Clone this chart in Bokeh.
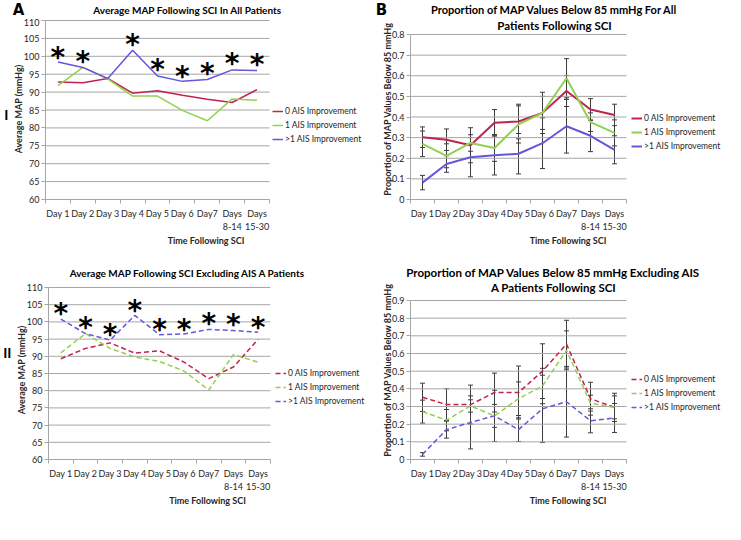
from bokeh.plotting import figure
from bokeh.layouts import column, row
from bokeh.models import (ColumnDataSource, Legend, LegendItem, FixedTicker, LinearAxis,
                          Whisker, TeeHead, Range1d)
from bokeh.core.properties import value
from bokeh.embed import file_html
from bokeh.resources import INLINE

categories = ["Day 1", "Day 2", "Day 3", "Day 4", "Day 5", "Day 6", "Day7",
              "Days\n8-14", "Days\n15-30"]
series_names = ["0 AIS Improvement", "1 AIS Improvement", ">1 AIS Improvement"]
series_colors = ["#C0234B", "#92D050", "#6655DD"]

# Panel A (I): Average MAP, all patients
a_zero = [92.8, 92.6, 93.8, 89.7, 90.4, 89.1, 88.0, 87.1, 90.7]
a_one = [91.8, 96.9, 93.7, 88.9, 88.9, 84.9, 82.0, 88.1, 87.7]
a_more = [98.4, 96.9, 93.8, 101.7, 94.5, 93.0, 93.5, 96.2, 96.0]
a_star = [100.9, 99.7, None, 104.3, 97.5, 95.5, 96.4, 99.0, 98.9]

# Panel B: proportion below 85 mmHg, all patients (value, +/- error)
b_zero = [0.302, 0.290, 0.263, 0.372, 0.378, 0.420, 0.526, 0.436, 0.410]
b_zero_err = [0.050, 0.052, 0.085, 0.064, 0.084, 0.100, 0.075, 0.053, 0.052]
b_one = [0.270, 0.212, 0.274, 0.250, 0.364, 0.420, 0.588, 0.375, 0.323]
b_one_err = [0.062, 0.058, 0.040, 0.065, 0.090, 0.080, 0.095, 0.045, 0.063]
b_more = [0.082, 0.172, 0.205, 0.214, 0.222, 0.273, 0.355, 0.309, 0.241]
b_more_err = [0.035, 0.040, 0.095, 0.095, 0.098, 0.123, 0.130, 0.077, 0.068]

# Panel C (II): Average MAP excluding AIS A
c_zero = [89.3, 92.3, 93.9, 90.9, 91.6, 88.3, 83.5, 86.9, 94.9]
c_one = [91.0, 96.6, 92.3, 89.8, 88.5, 85.7, 80.2, 90.5, 88.3]
c_more = [100.8, 96.6, 94.7, 101.9, 96.3, 96.5, 97.8, 97.5, 97.0]
c_star = [103.6, 99.6, 97.4, 104.4, 99.0, 99.0, 100.8, 100.3, 99.4]

# Panel D: proportion below 85 mmHg excluding AIS A
d_zero = [0.352, 0.311, 0.311, 0.379, 0.379, 0.500, 0.653, 0.344, 0.295]
d_zero_err = [0.080, 0.090, 0.110, 0.110, 0.150, 0.155, 0.135, 0.093, 0.080]
d_one = [0.271, 0.223, 0.303, 0.247, 0.344, 0.416, 0.618, 0.319, 0.295]
d_one_err = [0.065, 0.060, 0.035, 0.065, 0.095, 0.100, 0.110, 0.045, 0.065]
d_more = [0.029, 0.169, 0.210, 0.247, 0.169, 0.287, 0.327, 0.219, 0.235]
d_more_err = [0.010, 0.048, 0.150, 0.145, 0.067, 0.190, 0.200, 0.068, 0.082]

map_ticks = [60, 65, 70, 75, 80, 85, 90, 95, 100, 105, 110]
prop_ticks_b = [0, 0.1, 0.2, 0.3, 0.4, 0.5, 0.6, 0.7, 0.8]
prop_ticks_d = [0, 0.1, 0.2, 0.3, 0.4, 0.5, 0.6, 0.7, 0.8, 0.9]

FONT = "Lato"
GRID = "#A6A6A6"
TXT = "#262626"
TOTAL_W = 725


def make_panel(width, height, left, bottom, plot_w, plot_top, yticks, ylabel,
               series, dashed, lw, legend_pos, ylabel_standoff=-3,
               subtitle=None, roman=None, stars=None, errors=None):
    """plot_w: pixel width of the category area; plot_top: pixels from the
    figure top down to the highest y tick. The frame also covers the legend
    area on the right and the subtitle band on top."""
    n = len(categories)
    xs = list(range(1, n + 1))
    frame_w = width - left
    frame_h = height - bottom
    data_h = frame_h - plot_top
    ymin, ymax = yticks[0], yticks[-1]
    x_end = 0.5 + n * frame_w / plot_w
    y_end = ymax + (ymax - ymin) * plot_top / data_h

    def px_to_y(px_from_top):
        return ymax - (px_from_top - plot_top) / data_h * (ymax - ymin)

    def px_to_x(px_from_left):
        return 0.5 + px_from_left / plot_w * n

    p = figure(width=width, height=height, output_backend="svg", toolbar_location=None,
               title=None, x_range=Range1d(0.5, x_end), y_range=Range1d(ymin, y_end),
               min_border_left=left, min_border_right=0,
               min_border_top=0, min_border_bottom=bottom)
    p.outline_line_color = None
    p.background_fill_color = "white"
    p.border_fill_color = "white"
    p.xgrid.visible = False
    p.ygrid.visible = False

    # horizontal gridlines limited to the category area
    p.segment(x0=[0.5] * len(yticks), x1=[n + 0.5] * len(yticks), y0=yticks, y1=yticks,
              line_color=GRID, line_width=1)

    ya = p.yaxis[0]
    xa = p.xaxis[0]
    ya.ticker = FixedTicker(ticks=yticks)
    ya.bounds = (ymin, ymax)
    ya.major_label_overrides = {t: f"{t:g}" for t in yticks}
    ya.axis_line_color = GRID
    ya.major_tick_line_color = GRID
    ya.major_tick_out = 4
    ya.major_tick_in = 0
    ya.minor_tick_line_color = None
    ya.minor_tick_out = 0
    ya.major_label_standoff = 2
    ya.axis_label = ylabel
    ya.axis_label_standoff = ylabel_standoff

    bounds = [i + 0.5 for i in range(n + 1)]
    xa.ticker = FixedTicker(ticks=xs, minor_ticks=bounds)
    xa.bounds = (0.5, n + 0.5)
    xa.major_label_overrides = {x: c for x, c in zip(xs, categories)}
    xa.axis_line_color = GRID
    xa.major_tick_line_color = None
    xa.major_tick_out = 0
    xa.major_tick_in = 0
    xa.minor_tick_line_color = GRID
    xa.minor_tick_out = 4
    xa.minor_tick_in = 0
    xa.major_label_standoff = 4
    xa.axis_label = "Time Following SCI"
    xa.axis_label_standoff = 0

    for ax in (xa, ya):
        ax.major_label_text_font = FONT
        ax.major_label_text_font_size = "9px"
        ax.major_label_text_color = TXT
        ax.axis_label_text_font = FONT
        ax.axis_label_text_font_size = "9px"
        ax.axis_label_text_font_style = "bold"
        ax.axis_label_text_color = TXT

    if roman is not None:
        ry = px_to_y(roman[1])
        rax = LinearAxis(ticker=FixedTicker(ticks=[ry]),
                         major_label_overrides={ry: roman[0]},
                         axis_line_color=None, major_tick_line_color=None,
                         minor_tick_line_color=None, major_label_standoff=1,
                         major_tick_out=0, major_tick_in=0, minor_tick_out=0,
                         major_label_text_font=FONT, major_label_text_font_size="14px",
                         major_label_text_font_style="bold",
                         major_label_text_color="black")
        p.add_layout(rax, "left")

    if subtitle is not None:
        txt, cx, cy = subtitle
        p.text(x=[px_to_x(cx)], y=[px_to_y(cy)], text=[txt], text_font=value(FONT),
               text_font_style="bold", text_font_size="11.5px", text_align="center",
               text_baseline="middle", text_color="black")

    if errors is not None:
        for vals, errs in zip(series, errors):
            src = ColumnDataSource(dict(x=xs,
                                        upper=[v + e for v, e in zip(vals, errs)],
                                        lower=[v - e for v, e in zip(vals, errs)]))
            p.add_layout(Whisker(source=src, base="x", upper="upper", lower="lower",
                                 line_color="#3C3C3C", line_width=1,
                                 upper_head=TeeHead(size=5, line_color="#3C3C3C", line_width=1),
                                 lower_head=TeeHead(size=5, line_color="#3C3C3C", line_width=1)))

    items = []
    for name, vals, col in zip(series_names, series, series_colors):
        kw = dict(line_dash="5 3") if dashed else {}
        r = p.line(xs, vals, line_color=col, line_width=lw, **kw)
        items.append(LegendItem(label=name, renderers=[r]))

    if stars is not None:
        sx = [x for x, s in zip(xs, stars) if s is not None]
        sy = [s for s in stars if s is not None]
        p.text(x=sx, y=sy, text=["*"] * len(sx), text_font=value("DejaVu Sans"),
               text_font_style="bold", text_font_size="28px", text_align="center",
               text_baseline="middle", y_offset=4, text_color="black")

    legend = Legend(items=items, location=legend_pos, orientation="vertical",
                    label_text_font=FONT, label_text_font_size="8.5px",
                    label_text_color=TXT, glyph_width=11, glyph_height=14,
                    label_height=14, spacing=0, padding=0, margin=0,
                    label_standoff=2, border_line_color=None,
                    background_fill_alpha=0)
    p.add_layout(legend, "center")
    return p


def make_strip(height, texts):
    s = figure(width=TOTAL_W, height=height, output_backend="svg", toolbar_location=None,
               title=None, x_range=Range1d(0, TOTAL_W), y_range=Range1d(0, height),
               x_axis_type=None, y_axis_type=None, min_border=0)
    s.outline_line_color = None
    s.xgrid.visible = False
    s.ygrid.visible = False
    for txt, x, y, size, font in texts:
        s.text(x=[x], y=[y], text=[txt], text_font=value(font), text_font_style="bold",
               text_font_size=size, text_align="center", text_baseline="middle",
               text_color="black")
    return s


strip1 = make_strip(18, [
    ("A", 18, 9, "15px", "DejaVu Sans"),
    ("Average MAP Following SCI In All Patients", 187, 9, "10px", FONT),
    ("B", 381, 9, "15px", "DejaVu Sans"),
    ("Proportion of MAP Values Below 85 mmHg For All", 554, 9, "11px", FONT),
])

pA = make_panel(366, 246, 45, 65, 224, 2, map_ticks, "Average MAP (mmHg)",
                [a_zero, a_one, a_more], False, 1.5, (227, 53),
                roman=("I", 96), stars=a_star)

pB = make_panel(359, 246, 44, 65, 216, 16, prop_ticks_b,
                "Proportion of MAP Values Below 85 mmHg",
                [b_zero, b_one, b_more], False, 2, (221, 46), ylabel_standoff=-4,
                subtitle=("Patients Following SCI", 144, 7),
                errors=[b_zero_err, b_one_err, b_more_err])

strip2 = make_strip(16, [
    ("Average MAP Following SCI Excluding AIS A Patients", 187, 8, "10px", FONT),
    ("Proportion of MAP Values Below 85 mmHg Excluding AIS", 553, 8, "11.5px", FONT),
])

pC = make_panel(366, 244, 45, 65, 224, 7, map_ticks, "Average MAP (mmHg)",
                [c_zero, c_one, c_more], True, 1.5, (227, 51),
                roman=("II", 72), stars=c_star)

pD = make_panel(359, 244, 44, 65, 216, 20, prop_ticks_d,
                "Proportion of MAP Values Below 85 mmHg",
                [d_zero, d_one, d_more], True, 1.5, (221, 45), ylabel_standoff=-4,
                subtitle=("A Patients Following SCI", 143, 7),
                errors=[d_zero_err, d_one_err, d_more_err])

layout = column(strip1, row(pA, pB), strip2, row(pC, pD), spacing=0)
open("out.html", "w").write(file_html(layout, INLINE))
